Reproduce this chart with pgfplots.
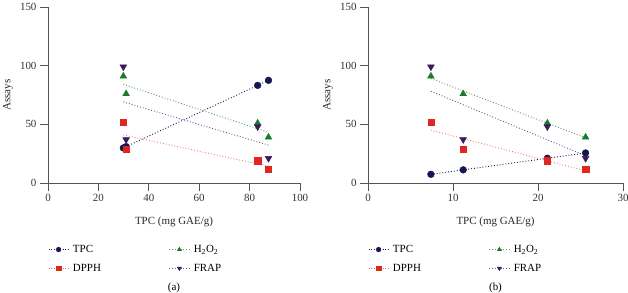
\documentclass[border=0pt]{standalone}
\usepackage{fontspec}
\setmainfont{Liberation Serif}
\usepackage{pgfplots}
\pgfplotsset{compat=1.18}
\definecolor{cTPC}{HTML}{141852}
\definecolor{cDPPH}{HTML}{E0261F}
\definecolor{cH}{HTML}{1A7A2A}
\definecolor{cFRAP}{HTML}{3A1A5A}
\definecolor{axc}{HTML}{555555}
\newcommand{\fs}{\fontsize{11}{13}\selectfont}
\pgfplotsset{
  legimg/.style={legend image code/.code={
      \draw[dotted,line width=0.8bp,#1] (0bp,0bp)--(22bp,0bp);
      \draw[##1,mark size=2.4bp,mark repeat=2,mark phase=2] plot coordinates {(0bp,0bp)(10bp,0bp)(22bp,0bp)};}},
  myaxis/.style={
    scale only axis, height=176bp,
    axis lines=left, axis line style={-, axc, line width=0.7bp},
    tick style={axc, line width=0.7bp}, major tick length=8bp, tick align=outside,
    ymin=0, ymax=150, ytick={0,50,100,150},
    /pgf/number format/assume math mode=true,
    tick label style={font=\fs, text=black!80},
    label style={font=\fs, text=black!85},
    ylabel={Assays},
    ylabel style={at={(axis description cs:0,0.5)}, anchor=center, yshift=40bp},
    xlabel={TPC (mg GAE/g)},
    xlabel style={at={(axis description cs:0.5,0)}, anchor=center, yshift=-38.5bp},
    legend columns=2,
    legend style={draw=none, fill=none, font=\fs, at={(axis description cs:0,0)}, anchor=north west,
      xshift=-3bp, yshift=-58bp, row sep=6bp,
      /tikz/every even column/.append style={column sep=66bp}},
    legend cell align=left,
    clip=false,
  },
  tpcm/.style={only marks, mark=*, mark size=3.4bp, color=cTPC, legimg=cTPC},
  dpphm/.style={only marks, mark=square*, mark size=3.1bp, color=cDPPH, legimg={cDPPH!70}},
  hm/.style={only marks, mark=triangle*, mark size=3.9bp, color=cH, legimg={cH!70}},
  frapm/.style={only marks, mark=triangle*, mark options={rotate=180}, mark size=3.9bp, color=cFRAP, legimg={cFRAP!70}},
  tr/.style={dotted, line width=0.9bp, forget plot},
}
\begin{document}
\begin{tikzpicture}
\useasboundingbox (0bp,0bp) rectangle (628bp,293bp);
% ---------------- (a)
\begin{axis}[myaxis, at={(48bp,110bp)}, width=252bp,
  xmin=0, xmax=100, xtick={0,20,40,60,80,100}]
\addplot[tr, color=cTPC] coordinates {(29.9,29.9) (87.5,87.5)};
\addplot[tr, color=cH!75] coordinates {(29.9,84.1) (87.5,43.2)};
\addplot[tr, color=cFRAP!75] coordinates {(29.9,69.1) (87.5,32.3)};
\addplot[tr, color=cDPPH!60] coordinates {(29.9,41.0) (87.5,14.3)};
\addplot[tpcm] coordinates {(29.9,29.9) (31.0,31.0) (83.2,83.2) (87.5,87.5)};
\addlegendentry{TPC}
\addplot[hm] coordinates {(29.9,91) (31.0,76) (83.2,51) (87.5,39)};
\addlegendentry{H\textsubscript{2}O\textsubscript{2}}
\addplot[dpphm] coordinates {(29.9,52) (31.0,29) (83.2,19) (87.5,12)};
\addlegendentry{DPPH}
\addplot[frapm] coordinates {(29.9,99) (31.0,37) (83.2,48) (87.5,21)};
\addlegendentry{FRAP}
\node[font=\fs] at (axis description cs:0.5,0) [yshift=-105bp] {(a)};
\end{axis}
% ---------------- (b)
\begin{axis}[myaxis, at={(368bp,110bp)}, width=255bp,
  xmin=0, xmax=30, xtick={0,10,20,30}]
\addplot[tr, color=cTPC] coordinates {(7.4,7.4) (25.6,25.6)};
\addplot[tr, color=cH!75] coordinates {(7.4,89.0) (25.6,38.5)};
\addplot[tr, color=cFRAP!75] coordinates {(7.4,78.2) (25.6,23.2)};
\addplot[tr, color=cDPPH!60] coordinates {(7.4,45.1) (25.6,10.3)};
\addplot[tpcm] coordinates {(7.4,7.4) (11.2,11.2) (21.1,21.1) (25.6,25.6)};
\addlegendentry{TPC}
\addplot[hm] coordinates {(7.4,91) (11.2,76) (21.1,51) (25.6,39)};
\addlegendentry{H\textsubscript{2}O\textsubscript{2}}
\addplot[dpphm] coordinates {(7.4,52) (11.2,29) (21.1,19) (25.6,12)};
\addlegendentry{DPPH}
\addplot[frapm] coordinates {(7.4,99) (11.2,37) (21.1,48) (25.6,21)};
\addlegendentry{FRAP}
\node[font=\fs] at (axis description cs:0.5,0) [yshift=-105bp] {(b)};
\end{axis}
\end{tikzpicture}
\end{document}
